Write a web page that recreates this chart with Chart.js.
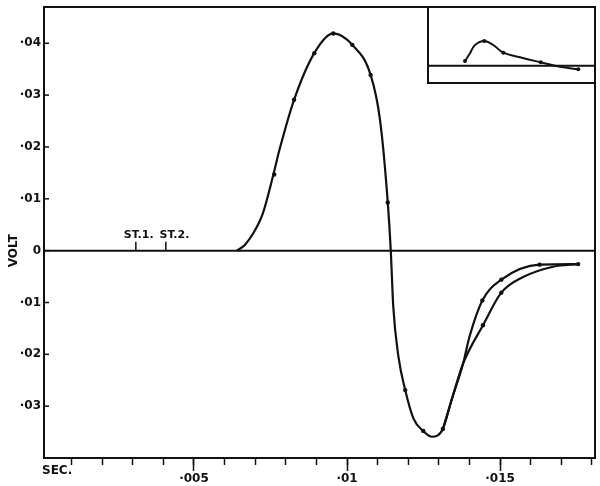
<!DOCTYPE html>
<html>
<head>
<meta charset="utf-8">
<script src="https://cdn.jsdelivr.net/npm/chart.js@4.4.1/dist/chart.umd.min.js"></script>
<style>
    body { margin: 0; background: #fff; }
    #wrap { position: relative; width: 600px; height: 486px; }
    #mainChart { display: block; }
    #insetChart { position: absolute; left: 427px; top: 7px; }
</style>
</head>
<body>
<div id="wrap">
    <canvas id="mainChart" width="600" height="486"></canvas>
    <canvas id="insetChart" width="168" height="77"></canvas>
</div>
<script>
    // main trace (seconds / volts), runs on through the upper recovery branch
    const curveX = [0.0064, 0.00666, 0.00693, 0.00725, 0.00759, 0.00779, 0.00827, 0.00893, 0.00955, 0.01017, 0.01077, 0.01108, 0.01133, 0.01143, 0.01151, 0.01168, 0.0119, 0.01217, 0.01249, 0.01277, 0.01313, 0.01341, 0.01379, 0.014, 0.01442, 0.01504, 0.01629, 0.01755];
    const curveY = [0, 0.0011, 0.0033, 0.0072, 0.0146, 0.0194, 0.0291, 0.0381, 0.0419, 0.0397, 0.0339, 0.0251, 0.0093, -0.0002, -0.0108, -0.0205, -0.0269, -0.0324, -0.0348, -0.0359, -0.0344, -0.0289, -0.0218, -0.0166, -0.0096, -0.0056, -0.0027, -0.0026];

    // lower recovery branch
    const lowerX = [0.01313, 0.01341, 0.01379, 0.01444, 0.01504, 0.01575, 0.01673, 0.01755];
    const lowerY = [-0.0344, -0.0289, -0.0218, -0.0144, -0.0081, -0.0051, -0.0031, -0.0026];

    // measured points
    const dotX = [0.00762, 0.00827, 0.00893, 0.00955, 0.01017, 0.01077, 0.01133, 0.0119, 0.01249, 0.01313, 0.01442, 0.01504, 0.01629, 0.01755, 0.01444, 0.01504];
    const dotY = [0.0147, 0.0291, 0.0381, 0.0419, 0.0397, 0.0339, 0.0093, -0.0269, -0.0348, -0.0344, -0.0096, -0.0056, -0.0027, -0.0026, -0.0144, -0.0081];

    // small inset trace (arbitrary units)
    const insetX = [3.8, 4.3, 4.8, 5.73, 6.63, 7.63, 9.3, 11.37, 13.3, 15.13];
    const insetY = [0.47, 1.24, 2.07, 2.47, 2.07, 1.3, 0.84, 0.34, -0.1, -0.36];
    const insetDotX = [3.8, 5.73, 7.63, 11.37, 15.13];
    const insetDotY = [0.47, 2.47, 1.3, 0.34, -0.36];

    // axes
    const xMinorTicks = [0.001, 0.002, 0.003, 0.004, 0.005, 0.006, 0.007, 0.008, 0.009, 0.01, 0.011, 0.012, 0.013, 0.014, 0.015, 0.016, 0.017, 0.018];
    const xMajorTicks = [0.005, 0.01, 0.015];
    const xTickLabels = ['·005', '·01', '·015'];
    const yTicks = [-0.03, -0.02, -0.01, 0, 0.01, 0.02, 0.03, 0.04];
    const yTickLabels = ['·03', '·02', '·01', '0', '·01', '·02', '·03', '·04'];

    // stimulus markers
    const stTimes = [0.0031, 0.00408];
    const stLabels = ['ST.1.', 'ST.2.'];

    const ink = '#111';
    const boldFont = { family: 'DejaVu Sans', size: 12, weight: 'bold' };
    const pts = (xs, ys) => xs.map((x, i) => ({ x: x, y: ys[i] }));
    const noPad = axis => { axis.paddingTop = 0; axis.paddingBottom = 0; axis.paddingLeft = 0; axis.paddingRight = 0; };

    // frame, zero line, inward y ticks, stimulus marks and axis words
    const framePlugin = {
        id: 'frame',
        afterDatasetsDraw(chart) {
            const ctx = chart.ctx;
            const a = chart.chartArea;
            const x = chart.scales.x;
            const y = chart.scales.y;
            const y0 = y.getPixelForValue(0);
            ctx.save();
            ctx.strokeStyle = ink;
            ctx.lineWidth = 2;
            ctx.strokeRect(a.left, a.top, a.right - a.left, a.bottom - a.top);

            ctx.beginPath();
            ctx.moveTo(a.left, y0);
            ctx.lineTo(a.right, y0);
            ctx.stroke();

            ctx.lineWidth = 1.5;
            yTicks.forEach(v => {
                const py = y.getPixelForValue(v);
                ctx.beginPath();
                ctx.moveTo(a.left, py);
                ctx.lineTo(a.left + 5, py);
                ctx.stroke();
            });

            // ST marks: label starts a little left of its tick, but never runs into the previous one
            ctx.fillStyle = ink;
            ctx.font = 'bold 11px "DejaVu Sans"';
            ctx.textBaseline = 'alphabetic';
            ctx.textAlign = 'left';
            let prevEnd = -Infinity;
            stTimes.forEach((t, i) => {
                const px = x.getPixelForValue(t);
                ctx.beginPath();
                ctx.moveTo(px, y0);
                ctx.lineTo(px, y0 - 9);
                ctx.stroke();
                const tx = Math.max(px - 12, prevEnd + 6);
                ctx.fillText(stLabels[i], tx, y0 - 13);
                prevEnd = tx + ctx.measureText(stLabels[i]).width;
            });

            ctx.font = 'bold 12px "DejaVu Sans"';
            ctx.textBaseline = 'middle';
            ctx.fillText('SEC.', 42, 471);

            ctx.translate(14, y0);
            ctx.rotate(-Math.PI / 2);
            ctx.textAlign = 'center';
            ctx.fillText('VOLT', 0, 0);
            ctx.restore();
        }
    };

    new Chart(document.getElementById('mainChart').getContext('2d'), {
        type: 'line',
        data: {
            datasets: [
                {
                    data: pts(curveX, curveY),
                    borderColor: ink,
                    borderWidth: 2.2,
                    pointRadius: 0,
                    cubicInterpolationMode: 'monotone',
                    fill: false
                },
                {
                    data: pts(lowerX, lowerY),
                    borderColor: ink,
                    borderWidth: 2.2,
                    pointRadius: 0,
                    cubicInterpolationMode: 'monotone',
                    fill: false
                },
                {
                    data: pts(dotX, dotY),
                    showLine: false,
                    pointRadius: 2.2,
                    pointBackgroundColor: ink,
                    pointBorderWidth: 0
                }
            ]
        },
        options: {
            responsive: false,
            animation: false,
            devicePixelRatio: 1,
            layout: { autoPadding: false, padding: { top: 7, right: 5, left: 0, bottom: 0 } },
            plugins: { legend: { display: false }, tooltip: { enabled: false } },
            scales: {
                xm: {
                    type: 'linear',
                    position: 'bottom',
                    weight: 0,
                    min: 0.0001,
                    max: 0.0181,
                    afterBuildTicks: axis => { axis.ticks = xMinorTicks.map(v => ({ value: v })); },
                    afterFit: axis => { axis.height = 0; noPad(axis); },
                    border: { display: false },
                    grid: { drawOnChartArea: false, tickLength: 7, tickColor: ink, tickWidth: 1.5 },
                    ticks: { display: false }
                },
                x: {
                    type: 'linear',
                    position: 'bottom',
                    weight: 1,
                    min: 0.0001,
                    max: 0.0181,
                    afterBuildTicks: axis => { axis.ticks = xMajorTicks.map(v => ({ value: v })); },
                    afterFit: axis => { axis.height = 28; noPad(axis); },
                    border: { display: false },
                    grid: { drawOnChartArea: false, tickLength: 13, tickColor: ink, tickWidth: 1.5 },
                    ticks: {
                        padding: 1,
                        color: ink,
                        font: boldFont,
                        maxRotation: 0,
                        callback: (v, i) => xTickLabels[i]
                    }
                },
                y: {
                    type: 'linear',
                    min: -0.04,
                    max: 0.047,
                    afterBuildTicks: axis => { axis.ticks = yTicks.map(v => ({ value: v })); },
                    afterFit: axis => { axis.width = 44; noPad(axis); },
                    border: { display: false },
                    grid: { drawOnChartArea: false, drawTicks: false },
                    ticks: {
                        padding: 3,
                        color: ink,
                        font: boldFont,
                        callback: (v, i) => yTickLabels[i]
                    }
                }
            }
        },
        plugins: [framePlugin]
    });

    // inset box: left and bottom edges plus its own zero line
    const insetPlugin = {
        id: 'insetFrame',
        afterDatasetsDraw(chart) {
            const ctx = chart.ctx;
            const a = chart.chartArea;
            const y0 = chart.scales.y.getPixelForValue(0);
            ctx.save();
            ctx.strokeStyle = ink;
            ctx.lineWidth = 2;
            ctx.beginPath();
            ctx.moveTo(a.left + 1, a.top);
            ctx.lineTo(a.left + 1, a.bottom - 1);
            ctx.lineTo(a.right, a.bottom - 1);
            ctx.moveTo(a.left, y0);
            ctx.lineTo(a.right, y0);
            ctx.stroke();
            ctx.restore();
        }
    };

    new Chart(document.getElementById('insetChart').getContext('2d'), {
        type: 'line',
        data: {
            datasets: [
                {
                    data: pts(insetX, insetY),
                    borderColor: ink,
                    borderWidth: 2,
                    pointRadius: 0,
                    tension: 0.4,
                    fill: false
                },
                {
                    data: pts(insetDotX, insetDotY),
                    showLine: false,
                    pointRadius: 2,
                    pointBackgroundColor: ink,
                    pointBorderWidth: 0
                }
            ]
        },
        options: {
            responsive: false,
            animation: false,
            devicePixelRatio: 1,
            layout: { autoPadding: false, padding: 0 },
            plugins: { legend: { display: false }, tooltip: { enabled: false } },
            scales: {
                x: { type: 'linear', display: false, min: 0, max: 16.8 },
                y: { type: 'linear', display: false, min: -1.83, max: 5.87 }
            }
        },
        plugins: [insetPlugin]
    });
</script>
</body>
</html>
